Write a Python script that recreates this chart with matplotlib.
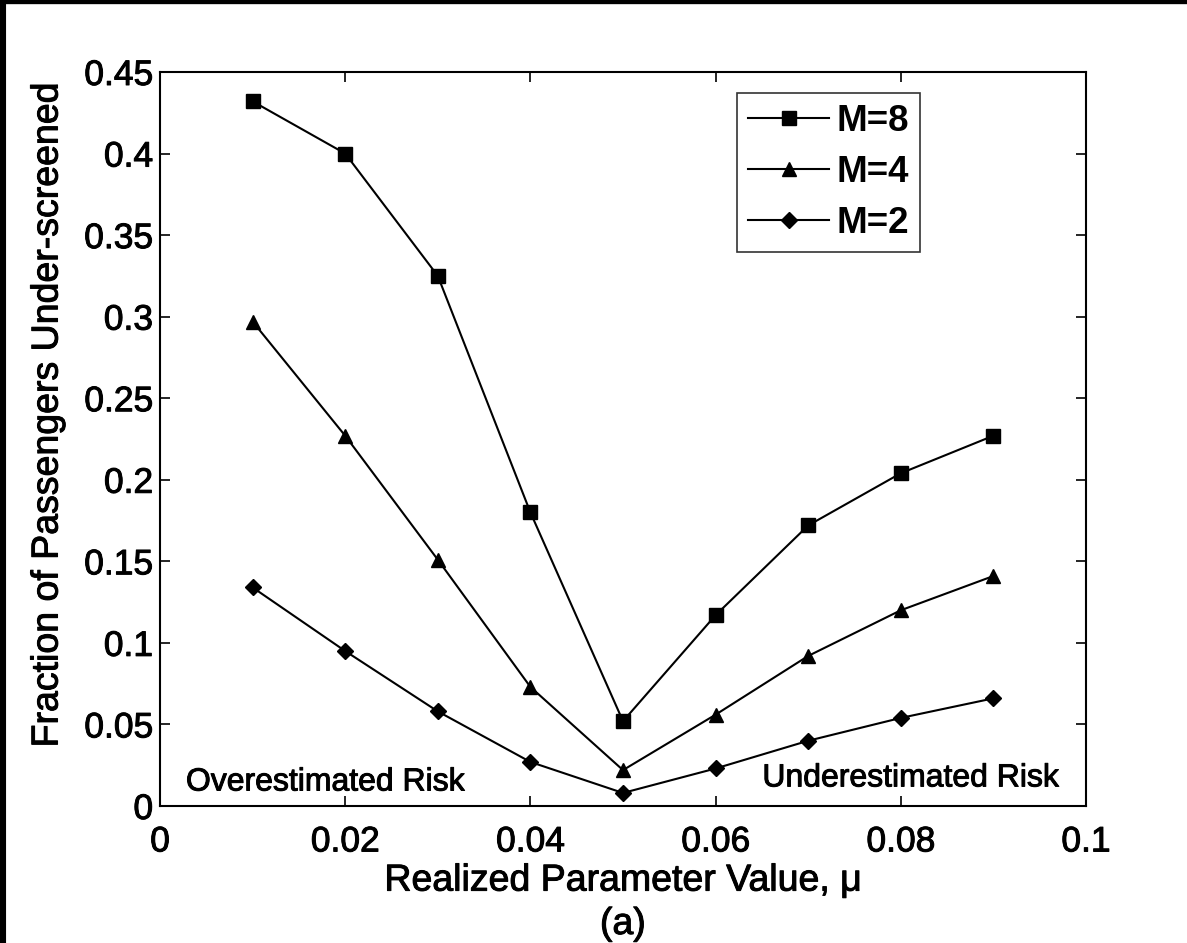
import matplotlib

matplotlib.use("Agg")
import matplotlib.pyplot as plt
import matplotlib.patheffects as pe
from matplotlib.lines import Line2D

# realized parameter value mu
mu = [0.01, 0.02, 0.03, 0.04, 0.05, 0.06, 0.07, 0.08, 0.09]

# fraction of passengers under-screened, one list per M
frac_m8 = [0.432, 0.400, 0.325, 0.180, 0.052, 0.117, 0.172, 0.204, 0.227]
frac_m4 = [0.297, 0.227, 0.151, 0.073, 0.022, 0.056, 0.092, 0.120, 0.141]
frac_m2 = [0.134, 0.095, 0.058, 0.027, 0.008, 0.023, 0.040, 0.054, 0.066]

series_labels = ["M=8", "M=4", "M=2"]
x_ticks = [0, 0.02, 0.04, 0.06, 0.08, 0.1]
x_ticklabels = ["0", "0.02", "0.04", "0.06", "0.08", "0.1"]
y_ticks = [0, 0.05, 0.1, 0.15, 0.2, 0.25, 0.3, 0.35, 0.4, 0.45]
y_ticklabels = ["0", "0.05", "0.1", "0.15", "0.2", "0.25", "0.3", "0.35", "0.4", "0.45"]

plt.rcParams["font.family"] = ["Liberation Sans", "DejaVu Sans"]
heavy = [pe.withStroke(linewidth=0.7, foreground="black")]

fig = plt.figure(figsize=(11.87, 9.43), dpi=100)
ax = fig.add_axes([160 / 1187, 1 - 806 / 943, 926 / 1187, 734 / 943])

ax.plot(mu, frac_m8, "k-", marker="s", ms=9.5, lw=1.5, label=series_labels[0])
ax.plot(mu, frac_m4, "k-", marker="^", ms=10.5, lw=1.5, label=series_labels[1])
ax.plot(mu, frac_m2, "k-", marker="D", ms=8.5, lw=1.5, label=series_labels[2])

ax.set_xlim(0, 0.1)
ax.set_ylim(0, 0.45)
ax.set_xticks(x_ticks)
ax.set_xticklabels(x_ticklabels)
ax.set_yticks(y_ticks)
ax.set_yticklabels(y_ticklabels)
ax.tick_params(direction="in", length=7, width=1.2, top=True, right=True, labelsize=25.5)
ax.tick_params(axis="x", pad=14)
ax.tick_params(axis="y", pad=5)
for sp in ax.spines.values():
    sp.set_linewidth(1.5)
for lab in ax.get_xticklabels() + ax.get_yticklabels():
    lab.set_path_effects(heavy)

ax.set_xlabel("Realized Parameter Value, \u03bc", fontsize=27, labelpad=3,
              path_effects=heavy)
ax.set_ylabel("Fraction of Passengers Under-screened", fontsize=27,
              path_effects=heavy)
ax.yaxis.set_label_coords(-0.102, 0.533)
fig.text(623 / 1187, 1 - 924 / 943, "(a)", fontsize=27, ha="center", va="center",
         path_effects=heavy)

ax.text(0.0028, 0.0095, "Overestimated Risk", fontsize=23, ha="left", va="baseline",
        path_effects=heavy)
ax.text(0.0971, 0.012, "Underestimated Risk", fontsize=23, ha="right", va="baseline",
        path_effects=heavy)

leg = ax.legend(loc="upper left", bbox_to_anchor=(0.6236, 0.971),
                prop={"size": 26.5, "weight": "bold"},
                frameon=True, fancybox=False, edgecolor="black",
                handlelength=2.2, handletextpad=0.2, borderpad=0.3, labelspacing=0.43,
                borderaxespad=0)
leg.get_frame().set_linewidth(1.2)

# black frame strips at top and left edge of the image
fig.add_artist(Line2D([0, 1], [1, 1], transform=fig.transFigure, color="black", lw=6))
fig.add_artist(Line2D([0, 0], [0, 1], transform=fig.transFigure, color="black", lw=8))

fig.savefig("out.png", dpi=100)
